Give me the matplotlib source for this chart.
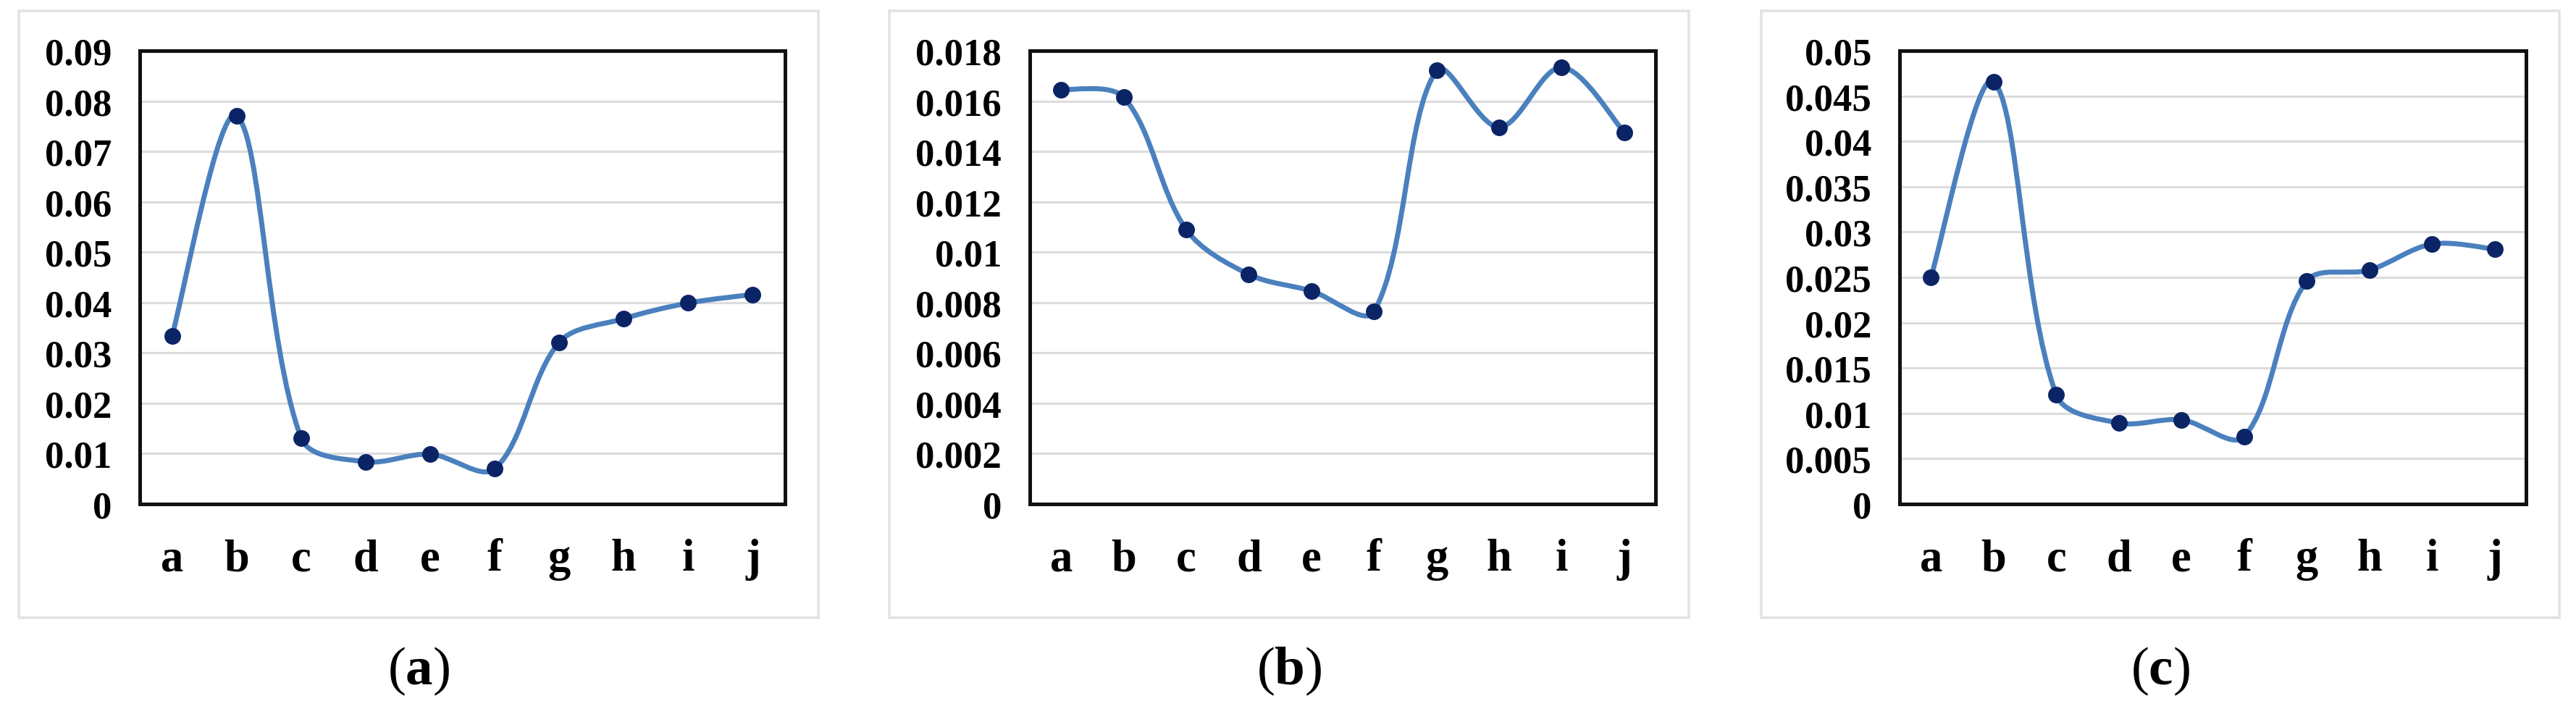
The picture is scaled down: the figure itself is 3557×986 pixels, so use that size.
import numpy as np
import matplotlib
matplotlib.use('Agg')
import matplotlib.pyplot as plt
from matplotlib.path import Path
from matplotlib.patches import PathPatch, Rectangle

# ---------------- data ----------------
categories = ['a', 'b', 'c', 'd', 'e', 'f', 'g', 'h', 'i', 'j']

values_a = [0.0334, 0.0771, 0.0131, 0.0084, 0.0099, 0.0070, 0.0321, 0.0368, 0.0399, 0.0416]
values_b = [0.01646, 0.01615, 0.01090, 0.00912, 0.00846, 0.00764, 0.01722, 0.01496, 0.01734, 0.01476]
values_c = [0.0250, 0.0466, 0.01205, 0.00894, 0.00929, 0.00743, 0.0246, 0.0258, 0.02867, 0.02811]

yticks_a = [0, 0.01, 0.02, 0.03, 0.04, 0.05, 0.06, 0.07, 0.08, 0.09]
yticklabels_a = ['0', '0.01', '0.02', '0.03', '0.04', '0.05', '0.06', '0.07', '0.08', '0.09']
yticks_b = [0, 0.002, 0.004, 0.006, 0.008, 0.010, 0.012, 0.014, 0.016, 0.018]
yticklabels_b = ['0', '0.002', '0.004', '0.006', '0.008', '0.01', '0.012', '0.014', '0.016', '0.018']
yticks_c = [0, 0.005, 0.010, 0.015, 0.020, 0.025, 0.030, 0.035, 0.040, 0.045, 0.050]
yticklabels_c = ['0', '0.005', '0.01', '0.015', '0.02', '0.025', '0.03', '0.035', '0.04', '0.045', '0.05']

panel_labels = ['a', 'b', 'c']

# ---------------- style ----------------
W, H = 3557, 987
plt.rcParams['font.family'] = ['Liberation Serif', 'DejaVu Serif']
plt.rcParams['mathtext.fontset'] = 'custom'
plt.rcParams['mathtext.rm'] = 'Liberation Serif'
plt.rcParams['mathtext.bf'] = 'Liberation Serif:bold'

LINE_C = '#4a80bd'
MARK_C = '#0b2466'
GRID_C = '#dcdcdc'
BOX_C = '#e3e3e3'

fig = plt.figure(figsize=(W / 100, H / 100), dpi=100)
fig.patch.set_facecolor('white')

axes_px = [(193, 1084), (1422, 2286), (2623, 3488)]
outer_px = [(26, 1130), (1228, 2332), (2432, 3534)]
ax_top, ax_bot = 71, 697
box_top, box_bot = 16, 854


def excel_smooth_path(ax, xs, ys, tension=1.0 / 3.0):
    """Excel-like smoothed line: Bezier segments whose tangents are weighted
    by neighbouring segment lengths in screen space."""
    disp = ax.transData.transform(np.column_stack([xs, ys]).astype(float))
    n = len(disp)
    d = np.hypot(*np.diff(disp, axis=0).T)  # segment lengths
    c_out = np.zeros_like(disp)
    c_in = np.zeros_like(disp)
    for i in range(n):
        if i == 0:
            t = disp[1] - disp[0]
            c_out[i] = disp[0] + t * tension * 0.5
        elif i == n - 1:
            t = disp[-1] - disp[-2]
            c_in[i] = disp[-1] - t * tension * 0.5
        else:
            t = disp[i + 1] - disp[i - 1]
            s = d[i - 1] + d[i]
            c_out[i] = disp[i] + t * tension * d[i] / s
            c_in[i] = disp[i] - t * tension * d[i - 1] / s
    verts = [disp[0]]
    codes = [Path.MOVETO]
    for i in range(n - 1):
        verts += [c_out[i], c_in[i + 1], disp[i + 1]]
        codes += [Path.CURVE4] * 3
    verts = ax.transData.inverted().transform(np.array(verts))
    return Path(verts, codes)


datasets = [(values_a, yticks_a, yticklabels_a),
            (values_b, yticks_b, yticklabels_b),
            (values_c, yticks_c, yticklabels_c)]

for k, (vals, yt, ytl) in enumerate(datasets):
    l, r = axes_px[k]
    ax = fig.add_axes([l / W, (H - ax_bot) / H, (r - l) / W, (ax_bot - ax_top) / H])
    x = np.arange(len(categories))
    ax.set_xlim(-0.5, len(categories) - 0.5)
    ax.set_ylim(yt[0], yt[-1])
    ax.set_yticks(yt)
    ax.set_yticklabels(ytl, fontsize=38, fontweight='bold')
    ax.set_xticks(x)
    ax.set_xticklabels(categories, fontsize=45, fontweight='bold')
    ax.tick_params(axis='y', length=0, pad=28)
    ax.tick_params(axis='x', length=0, pad=34)
    ax.grid(axis='y', color=GRID_C, lw=2.2, zorder=0)
    ax.set_axisbelow(True)
    for sp in ax.spines.values():
        sp.set_linewidth(3.6)
        sp.set_color('#111111')
        sp.set_zorder(5)

    path = excel_smooth_path(ax, x, vals)
    ax.add_patch(PathPatch(path, facecolor='none', edgecolor=LINE_C, lw=5.0,
                           capstyle='round', joinstyle='round', zorder=3))
    ax.plot(x, vals, 'o', ms=15.5, color=MARK_C, mec=MARK_C, zorder=4)

    ol, orr = outer_px[k]
    fig.add_artist(Rectangle((ol / W, (H - box_bot) / H), (orr - ol) / W, (box_bot - box_top) / H,
                             transform=fig.transFigure, fill=False, edgecolor=BOX_C, lw=2.6))
    cx = (ol + orr) / 2 / W
    fig.text(cx, (H - 927) / H, r'($\mathbf{' + panel_labels[k] + r'}$)', fontsize=54,
             ha='center', va='center')

fig.savefig('out.png', dpi=100, facecolor='white')
